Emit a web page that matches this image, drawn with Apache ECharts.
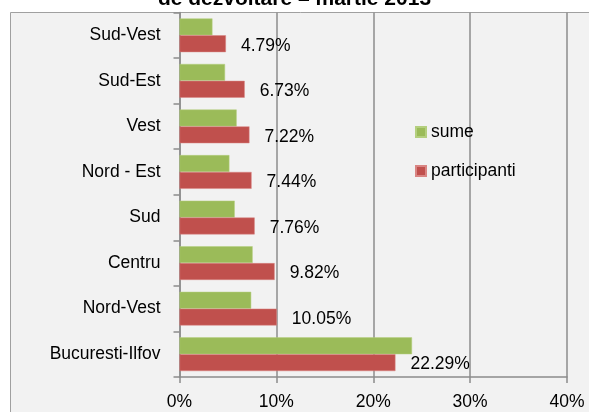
<!DOCTYPE html>
<html>
<head>
<meta charset="utf-8">
<script src="https://cdn.jsdelivr.net/npm/echarts@6/dist/echarts.min.js"></script>
<style>
  html, body { margin: 0; padding: 0; background: #fff; }
  #chart { width: 589px; height: 412px; }
</style>
</head>
<body>
<div id="chart"></div>
<script>
// regions, bottom to top (as in the original excel chart)
var regiuni = ['Bucuresti-Ilfov', 'Nord-Vest', 'Centru', 'Sud', 'Nord - Est', 'Vest', 'Sud-Est', 'Sud-Vest'];
var sume = [24.0, 7.4, 7.55, 5.7, 5.15, 5.9, 4.7, 3.4];
var participanti = [22.29, 10.05, 9.82, 7.76, 7.44, 7.22, 6.73, 4.79];
var procente = [0, 10, 20, 30, 40];

var font = '"Liberation Sans", Arial, sans-serif';

var option = {
    animation: false,
    backgroundColor: '#ffffff',
    textStyle: { fontFamily: font },
    title: {
        text: 'de dezvoltare \u2013 martie 2013',
        left: 'center',
        top: -16,
        textStyle: { fontSize: 21, fontWeight: 'bold', color: '#000', fontFamily: font }
    },
    graphic: [{
        type: 'rect',
        z: -10,
        shape: { x: 10.5, y: 12.5, width: 620, height: 420 },
        style: { fill: '#f2f2f2', stroke: '#a0a0a0', lineWidth: 1 }
    }],
    legend: {
        orient: 'vertical',
        left: 410,
        top: 116,
        itemWidth: 10,
        itemHeight: 10,
        itemGap: 17,
        icon: 'rect',
        textStyle: { fontSize: 17.5, color: '#000', lineHeight: 22, fontFamily: font },
        data: ['sume', 'participanti']
    },
    grid: {
        left: 179.5,
        right: 22,
        top: 12.5,
        bottom: 35,
        outerBoundsMode: 'none'
    },
    xAxis: {
        type: 'value',
        min: 0,
        max: 40,
        interval: 10,
        axisLine: { show: true, lineStyle: { color: '#8c8c8c', width: 1.5 } },
        axisTick: { show: true, length: 6, lineStyle: { color: '#8c8c8c', width: 1.5 } },
        splitLine: { show: true, lineStyle: { color: '#8c8c8c', width: 1.5 } },
        axisLabel: {
            fontSize: 17.5,
            color: '#000',
            margin: 16,
            fontFamily: font,
            formatter: function (v) { return procente.indexOf(v) >= 0 ? v + '%' : ''; }
        }
    },
    yAxis: {
        type: 'category',
        data: regiuni,
        axisLine: { show: true, lineStyle: { color: '#8c8c8c', width: 1.5 } },
        axisTick: { show: true, length: 6, lineStyle: { color: '#8c8c8c', width: 1.5 } },
        axisLabel: { fontSize: 17.5, color: '#000', margin: 19, fontFamily: font }
    },
    series: [{
        name: 'sume',
        type: 'bar',
        data: sume,
        barGap: '0%',
        barCategoryGap: '26%',
        itemStyle: { color: '#9bbb59', borderColor: '#b4cf7e', borderWidth: 0.5 }
    }, {
        name: 'participanti',
        type: 'bar',
        data: participanti,
        itemStyle: { color: '#c0504d', borderColor: '#d98583', borderWidth: 0.5 },
        label: {
            show: true,
            position: 'right',
            distance: 15,
            offset: [0, 2],
            fontSize: 17.5,
            color: '#000',
            fontFamily: font,
            formatter: function (p) { return p.value.toFixed(2) + '%'; }
        }
    }]
};

var myChart = echarts.init(document.getElementById('chart'));
myChart.setOption(option);
</script>
</body>
</html>
